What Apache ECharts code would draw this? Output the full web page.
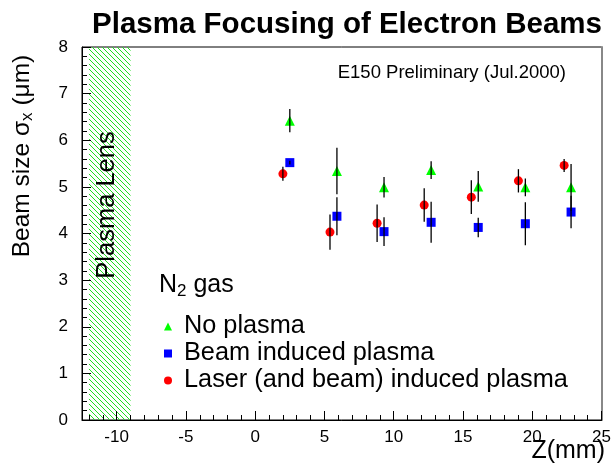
<!DOCTYPE html>
<html><head><meta charset="utf-8">
<script src="https://cdn.jsdelivr.net/npm/echarts@6/dist/echarts.min.js"></script>
<style>html,body{margin:0;padding:0;background:#fff}#c{width:614px;height:464px}</style>
</head><body><div id="c"></div>
<script>
// ---- data ----
const zShifted = [2.5, 5.9, 9.3, 12.7, 16.1, 19.5, 22.8];
const noPlasma = [6.42, 5.34, 4.99, 5.36, 5.01, 4.99, 4.99];
const noPlasmaErr = [0.25, 0.5, 0.22, 0.19, 0.33, 0.19, 0.5];
const beamPlasma = [5.52, 4.37, 4.04, 4.24, 4.13, 4.21, 4.46];
const beamPlasmaErr = [0.04, 0.41, 0.31, 0.44, 0.21, 0.46, 0.35];
const zLaser = [2.0, 5.4, 8.8, 12.2, 15.6, 19.0, 22.3];
const laserPlasma = [5.28, 4.03, 4.22, 4.61, 4.78, 5.13, 5.46];
const laserPlasmaErr = [0.15, 0.38, 0.4, 0.36, 0.36, 0.25, 0.14];
const xMajorTicks = [-10, -5, 0, 5, 10, 15, 20, 25];
const xMinorTicks = [-12,-11,-9,-8,-7,-6,-4,-3,-2,-1,1,2,3,4,6,7,8,9,11,12,13,14,16,17,18,19,21,22,23,24];
const lensRange = [-12, -9];
const seriesNames = ['No plasma', 'Beam induced plasma', 'Laser (and beam) induced plasma'];

// hatch pattern
const pc = document.createElement('canvas');
pc.width = 5; pc.height = 5;
const g = pc.getContext('2d');
g.strokeStyle = '#22dd22'; g.lineWidth = 1;
g.beginPath();
g.moveTo(-1,-1); g.lineTo(6,6);
g.moveTo(-1,4); g.lineTo(1,6);
g.moveTo(4,-1); g.lineTo(6,1);
g.stroke();

function pts(xs, ys){ return xs.map((x,i)=>[x, ys[i]]); }
function errs(xs, ys, es){ return xs.map((x,i)=>[x, ys[i]-es[i], ys[i]+es[i]]); }
const allErr = errs(zShifted, noPlasma, noPlasmaErr)
  .concat(errs(zShifted, beamPlasma, beamPlasmaErr))
  .concat(errs(zLaser, laserPlasma, laserPlasmaErr));

const FONT = 'Liberation Sans, Arial, Helvetica, sans-serif';
const chart = echarts.init(document.getElementById('c'), null, {renderer:'canvas'});
chart.setOption({
  animation: false,
  textStyle: {fontFamily: FONT, color: '#000'},
  grid: {left: 82, right: 11, top: 47, bottom: 44, show: true, borderColor: '#000', borderWidth: 1},
  title: {text: 'Plasma Focusing of Electron Beams', left: 342, textAlign: 'center', top: 5,
    textStyle: {fontFamily: FONT, fontWeight: 'bold', fontSize: 29.5, color: '#000'}},
  xAxis: [{
    type: 'value', min: -12.5, max: 25, position: 'bottom', z: 5,
    splitLine: {show: false},
    axisLine: {onZero: false, lineStyle: {color: '#000', width: 1}},
    axisTick: {inside: true, length: 9, customValues: xMajorTicks, lineStyle: {color: '#000'}},
    axisLabel: {customValues: xMajorTicks, fontSize: 17, color: '#000', margin: 9, fontFamily: FONT}
  }, {
    type: 'value', min: -12.5, max: 25, position: 'bottom', z: 5,
    splitLine: {show: false},
    axisLine: {show: false},
    axisTick: {inside: true, length: 5, customValues: xMinorTicks, lineStyle: {color: '#000'}},
    axisLabel: {show: false}
  }],
  yAxis: [{
    type: 'value', min: 0, max: 8, interval: 1, position: 'left', z: 5,
    splitLine: {show: false},
    axisLine: {show: true, onZero: false, lineStyle: {color: '#000', width: 1}},
    axisTick: {inside: true, length: 9, lineStyle: {color: '#000'}},
    minorTick: {show: true, splitNumber: 5, length: 5, lineStyle: {color: '#000'}},
    axisLabel: {fontSize: 17, color: '#000', margin: 14, fontFamily: FONT}
  }, {
    type: 'value', min: 0, max: 8, position: 'right', z: 5,
    splitLine: {show: false},
    axisLine: {show: true, onZero: false, lineStyle: {color: '#888', width: 2}},
    axisTick: {show: false}, axisLabel: {show: false}
  }],
  legend: {
    orient: 'vertical', left: 159, top: 308, itemWidth: 8, itemHeight: 8, itemGap: 0,
    data: seriesNames,
    textStyle: {fontFamily: FONT, fontSize: 25.3, color: '#000', lineHeight: 27, padding: [0,0,0,7]}
  },
  graphic: [
    {type: 'text', x: 22, y: 156, rotation: Math.PI/2,
     style: {text: '{a|Beam size σ}{s|x}{a| (μm)}', align: 'center', verticalAlign: 'middle',
       rich: {a: {fontSize: 24.5, fontFamily: FONT, fill: '#000'},
              s: {fontSize: 17, fontFamily: FONT, fill: '#000', padding: [10,0,0,0]}}}},
    {type: 'text', x: 605, y: 451,
     style: {text: 'Z(mm)', align: 'right', verticalAlign: 'middle', fontSize: 25, fontFamily: FONT, fill: '#000'}},
    {type: 'text', x: 107, y: 205, rotation: Math.PI/2, z: 10,
     style: {text: 'Plasma Lens', align: 'center', verticalAlign: 'middle', fontSize: 25.5, fontFamily: FONT, fill: '#000'}},
    {type: 'text', x: 566, y: 73,
     style: {text: 'E150 Preliminary (Jul.2000)', align: 'right', verticalAlign: 'middle', fontSize: 18.5, fontFamily: FONT, fill: '#000'}},
    {type: 'text', x: 159, y: 285,
     style: {text: '{a|N}{s|2}{a| gas}', verticalAlign: 'middle',
       rich: {a: {fontSize: 25, fontFamily: FONT, fill: '#000'},
              s: {fontSize: 17, fontFamily: FONT, fill: '#000', padding: [12,0,0,0]}}}}
  ],
  series: [
    {name: seriesNames[0], type: 'scatter', symbol: 'triangle', symbolSize: 10, z: 3,
     itemStyle: {color: '#00ff00', opacity: 1}, data: pts(zShifted, noPlasma),
     markArea: {silent: true, itemStyle: {color: {image: pc, repeat: 'repeat'}, borderWidth: 0},
       data: [[{xAxis: lensRange[0], yAxis: 0}, {xAxis: lensRange[1], yAxis: 8}]]}},
    {name: seriesNames[1], type: 'scatter', symbol: 'rect', symbolSize: 9, z: 3,
     itemStyle: {color: '#0000ff', opacity: 1}, data: pts(zShifted, beamPlasma)},
    {name: seriesNames[2], type: 'scatter', symbol: 'circle', symbolSize: 9, z: 3,
     itemStyle: {color: '#ff0000', opacity: 1}, data: pts(zLaser, laserPlasma)},
    {name: 'err', type: 'custom', z: 4, silent: true, data: allErr,
     renderItem: function(params, api){
       const a = api.coord([api.value(0), api.value(1)]);
       const b = api.coord([api.value(0), api.value(2)]);
       return {type: 'line', shape: {x1: a[0], y1: a[1], x2: b[0], y2: b[1]},
               style: {stroke: '#000', lineWidth: 1.3}};
     }}
  ]
});
</script></body></html>
